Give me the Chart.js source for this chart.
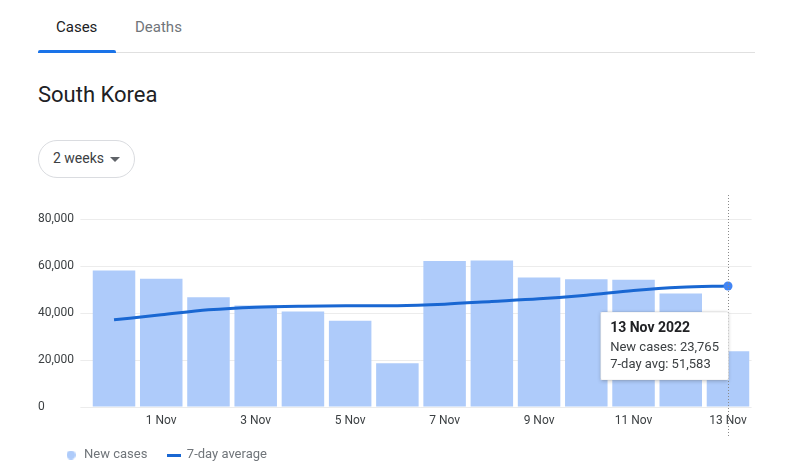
<!DOCTYPE html>
<html>
<head>
<meta charset="utf-8">
<script src="https://cdn.jsdelivr.net/npm/chart.js@4.4.0/dist/chart.umd.min.js"></script>
<style>
  html, body { margin: 0; padding: 0; background: #fff; }
  body { width: 790px; height: 476px; position: relative; overflow: hidden; font-family: Roboto, "Noto Sans", Arial, sans-serif; }
  .tab { position: absolute; top: 18px; font-size: 15px; }
  #tabCases { left: 56px; color: #202124; }
  #tabDeaths { left: 135px; color: #70757a; }
  #tabLine { position: absolute; left: 38px; top: 52px; width: 717px; height: 1px; background: #e0e0e0; }
  #tabUnder { position: absolute; left: 38px; top: 50px; width: 78px; height: 3px; background: #1a73e8; border-radius: 2px 2px 0 0; }
  #title { position: absolute; left: 38px; top: 82px; font-size: 22px; color: #202124; }
  #range { position: absolute; left: 38px; top: 140px; width: 97px; height: 38px; border: 1px solid #dadce0; border-radius: 19px; box-sizing: border-box; }
  #range span { position: absolute; left: 14px; top: 9px; font-size: 14px; color: #3c4043; }
  #range i { position: absolute; left: 71px; top: 16px; width: 0; height: 0; border-left: 5px solid transparent; border-right: 5px solid transparent; border-top: 5px solid #5f6368; }
  #wrap { position: absolute; left: 0; top: 190px; width: 790px; height: 286px; }
</style>
</head>
<body>
<div class="tab" id="tabCases">Cases</div>
<div class="tab" id="tabDeaths">Deaths</div>
<div id="tabLine"></div>
<div id="tabUnder"></div>
<div id="title">South Korea</div>
<div id="range"><span>2 weeks</span><i></i></div>
<div id="wrap"><canvas id="chart_0"></canvas></div>
<script>
// days shown: 31 Oct .. 13 Nov 2022
var days = ["31 Oct", "1 Nov", "2 Nov", "3 Nov", "4 Nov", "5 Nov", "6 Nov",
            "7 Nov", "8 Nov", "9 Nov", "10 Nov", "11 Nov", "12 Nov", "13 Nov"];
var newCases = [58190, 54640, 46830, 43250, 40690, 36710, 18650,
                62190, 62470, 55210, 54500, 54220, 48380, 23765];
var avg7 = [37140, 39270, 41410, 42560, 42990, 43120, 43200,
            43840, 44950, 46100, 47680, 49650, 51000, 51583];
var yTicks = [0, 20000, 40000, 60000, 80000];
var hoverIndex = 13;
var hoverTitle = "13 Nov 2022";

var barColor = "#aecbfa";
var lineColor = "#1967d2";

function marker(w, h, draw) {
  var c = document.createElement("canvas");
  c.width = w; c.height = h;
  draw(c.getContext("2d"));
  return c;
}
var dotMarker = marker(9, 9, function (g) {
  g.fillStyle = barColor; g.beginPath(); g.arc(4.5, 4.5, 4.5, 0, Math.PI * 2); g.fill();
});
var lineMarker = marker(14, 3, function (g) {
  g.fillStyle = lineColor; g.fillRect(0, 0, 14, 3);
});

Chart.Tooltip.positioners.pinned = function (items) {
  var it = items.find(function (e) { return e.datasetIndex === 1; }) || items[0];
  if (!it) return false;
  return { x: it.element.x - 1.5, y: it.element.y + 26 };
};

var hoverLine = {
  id: "hoverLine",
  afterLayout: function (chart) {
    // y tick labels sit a little left of the legend start
    chart.scales.y.left = 38;
  },
  afterDatasetsDraw: function (chart) {
    var ctx = chart.ctx, x = chart.scales.x.getPixelForValue(hoverIndex);
    ctx.save();
    ctx.strokeStyle = "#8a8a8a";
    ctx.lineWidth = 1;
    ctx.setLineDash([1, 2]);
    ctx.beginPath();
    ctx.moveTo(Math.round(x) + 0.5, 5);
    ctx.lineTo(Math.round(x) + 0.5, chart.chartArea.bottom + 30);
    ctx.stroke();
    ctx.restore();
  },
  beforeTooltipDraw: function (chart, args) {
    var t = args.tooltip, ctx = chart.ctx;
    if (!t.opacity) return;
    ctx.save();
    ctx.shadowColor = "rgba(0,0,0,0.25)";
    ctx.shadowBlur = 4;
    ctx.shadowOffsetY = 1;
    ctx.fillStyle = "#fff";
    ctx.fillRect(t.x, t.y, t.width, t.height);
    ctx.restore();
  }
};

var fontFam = "Roboto, 'Noto Sans', Arial, sans-serif";

var chart = new Chart("chart_0", {
  data: {
    labels: days,
    datasets: [{
      type: "bar",
      label: "New cases",
      data: newCases,
      backgroundColor: barColor,
      hoverBackgroundColor: barColor,
      categoryPercentage: 0.9,
      barPercentage: 1,
      order: 2
    }, {
      type: "line",
      label: "7-day average",
      data: avg7,
      borderColor: lineColor,
      borderWidth: 3,
      tension: 0.4,
      cubicInterpolationMode: "monotone",
      fill: false,
      pointRadius: avg7.map(function (v, i) { return i === hoverIndex ? 4.5 : 0; }),
      pointHoverRadius: avg7.map(function (v, i) { return i === hoverIndex ? 4.5 : 0; }),
      pointBackgroundColor: "#4285f4",
      pointBorderColor: "#4285f4",
      pointBorderWidth: 0,
      order: 1
    }]
  },
  options: {
    responsive: true,
    maintainAspectRatio: false,
    animation: false,
    events: [],
    layout: { padding: { left: 44.5, right: 38.4, top: 29.3, bottom: 4.5 } },
    scales: {
      x: {
        offset: true,
        grid: { display: false, drawTicks: false },
        border: { display: false },
        ticks: {
          autoSkip: false,
          maxRotation: 0,
          padding: 7,
          color: "#3c4043",
          font: { family: fontFam, size: 12 },
          callback: function (v, i) { return i % 2 === 1 ? days[i] : ""; }
        },
        afterFit: function (s) { s.height = 21.5; }
      },
      y: {
        min: 0,
        max: 80000,
        afterBuildTicks: function (s) { s.ticks = yTicks.map(function (v) { return { value: v }; }); },
        grid: { color: "#ececec", tickLength: 10, lineWidth: 1 },
        border: { display: false },
        ticks: {
          crossAlign: "far",
          padding: 4,
          color: "#3c4043",
          font: { family: fontFam, size: 12 },
          callback: function (v) { return v.toLocaleString("en-US"); }
        },
        afterFit: function (s) { s.width = 45.9; }
      }
    },
    plugins: {
      legend: {
        position: "bottom",
        align: "start",
        labels: {
          usePointStyle: true,
          boxWidth: 13,
          boxHeight: 9,
          padding: 20,
          color: "#70757a",
          font: { family: fontFam, size: 13 },
          generateLabels: function (c) {
            var items = Chart.defaults.plugins.legend.labels.generateLabels(c);
            items.sort(function (a, b) { return a.datasetIndex - b.datasetIndex; });
            items.forEach(function (it) {
              it.pointStyle = it.datasetIndex === 0 ? dotMarker : lineMarker;
            });
            return items;
          }
        }
      },
      tooltip: {
        enabled: true,
        position: "pinned",
        xAlign: "right",
        yAlign: "top",
        caretSize: 0,
        caretPadding: 0,
        cornerRadius: 2,
        backgroundColor: "#ffffff",
        borderColor: "rgba(0,0,0,0.08)",
        borderWidth: 1,
        displayColors: false,
        padding: { left: 9.5, right: 9.5, top: 8, bottom: 8 },
        titleColor: "#202124",
        titleFont: { family: fontFam, size: 14, weight: "bold" },
        titleMarginBottom: 3,
        bodyColor: "#3c4043",
        bodyFont: { family: fontFam, size: 13 },
        bodySpacing: 1.1,
        callbacks: {
          title: function () { return hoverTitle; },
          label: function (item) {
            var name = item.datasetIndex === 0 ? "New cases" : "7-day avg";
            return name + ": " + item.raw.toLocaleString("en-US");
          }
        }
      }
    }
  },
  plugins: [hoverLine]
});

chart.tooltip.setActiveElements([
  { datasetIndex: 0, index: hoverIndex },
  { datasetIndex: 1, index: hoverIndex }
], { x: 0, y: 0 });
chart.update();
</script>
</body>
</html>
